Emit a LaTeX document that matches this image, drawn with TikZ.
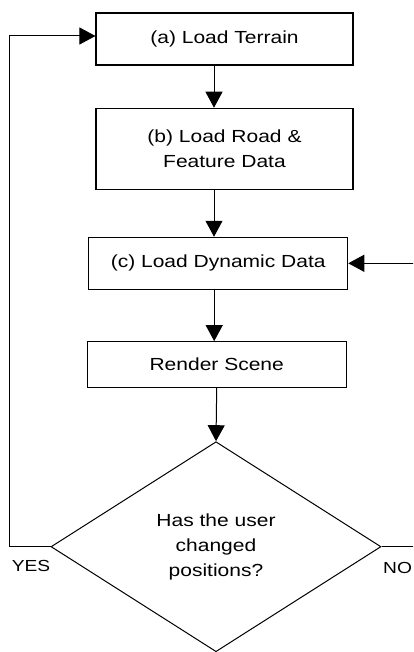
\documentclass[tikz,border=0pt]{standalone}
\usepackage{fontspec}
\setmainfont{Liberation Sans}[FakeStretch=1.2]
\usetikzlibrary{arrows.meta,positioning,shapes.geometric}

\begin{document}
\begin{tikzpicture}[
    x=1pt, y=-1pt,
    font=\fontsize{17.5}{25}\selectfont,
    box/.style={rectangle, draw, line width=1.1pt, align=center, inner sep=0pt},
    decision/.style={diamond, draw, line width=1pt, align=center, inner sep=0pt, minimum width=330pt, minimum height=210pt},
    tag/.style={inner sep=0pt, font=\fontsize{16}{19}\selectfont},
    arrow/.style={-{Triangle[length=16pt, width=17pt]}, line width=1pt}
]
    \useasboundingbox (0,0) rectangle (413,652);
    \clip (0,0) rectangle (413,652);

    % Loading steps
    \node[box, minimum width=257pt, minimum height=52pt] (terrain) at (224.5,39) {(a) Load Terrain};
    \node[box, minimum width=257pt, minimum height=81pt] (road) at (224.5,148.8) {(b) Load Road \&\\Feature Data};
    \node[box, minimum width=259pt, minimum height=52pt] (dynamic) at (218.2,263.3) {(c) Load Dynamic Data};

    % Render
    \node[box, minimum width=258.7pt, minimum height=45.6pt] (render) at (216.7,364.5) {Render Scene};

    % Decision
    \node[decision] (check) at (216,546.7) {\raisebox{5.5pt}{\begin{tabular}{@{}c@{}}Has the user\\changed\\positions?\end{tabular}}};
    \node[tag, anchor=base] (yes) at (31,571) {YES};
    \node[tag, anchor=base west] (no) at (383,573) {NO};

    % Arrows
    \draw[arrow] ([xshift=-10.5pt]terrain.south) -- ([xshift=-10.5pt]road.north);
    \draw[arrow] ([xshift=-10.5pt]road.south) -- ([xshift=-10.5pt]road.south |- dynamic.north);
    \draw[arrow] ([xshift=-4pt]dynamic.south) -- ([xshift=-4pt]dynamic.south |- render.north);
    \draw[arrow] (render.south) -- (check.north);

    % Loops back
    \draw[arrow] (check.west) -- ++(-40.7,0) |- ([yshift=3pt]terrain.west);
    \draw[arrow] (check.east) -- ++(45,0) |- (dynamic.east);

\end{tikzpicture}
\end{document}
